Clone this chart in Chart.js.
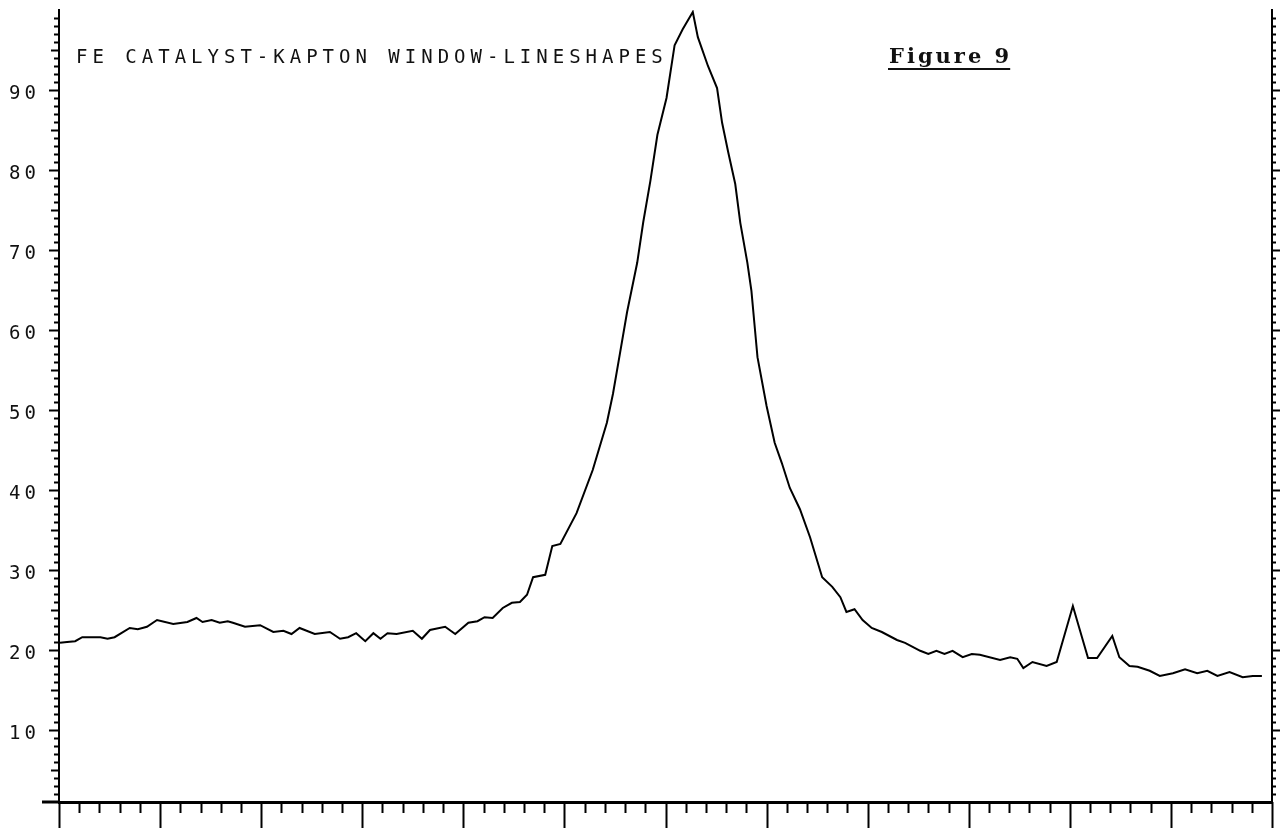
<!DOCTYPE html>
<html>
<head>
<meta charset="utf-8">
<title>FE CATALYST-KAPTON WINDOW-LINESHAPES</title>
<script src="https://cdn.jsdelivr.net/npm/chart.js@4.4.1/dist/chart.umd.min.js"></script>
<style>
  html, body { margin: 0; padding: 0; background: #ffffff; }
  canvas { display: block; }
</style>
</head>
<body>
<canvas id="spectrum" width="1280" height="829"></canvas>
<script>
// Channel positions of the recorded spectrum
const channel = [
  0.1, 0.8, 1.6, 2.3, 4.1, 4.8, 5.5, 7.0, 7.8, 8.7, 9.7, 11.3, 12.7, 13.6, 14.2,
  15.1, 15.9, 16.7, 17.2, 18.4, 19.9, 21.2, 22.2, 23.0, 23.8, 25.3, 26.8, 27.8,
  28.6, 29.4, 30.3, 31.1, 31.8, 32.5, 33.4, 35.0, 35.9, 36.7, 38.2, 39.2, 40.5,
  41.4, 42.1, 42.9, 43.9, 44.8, 45.6, 46.3, 46.9, 48.1, 48.8, 49.6, 51.2, 52.8,
  54.2, 54.8, 55.5, 56.2, 57.2, 57.8, 58.5, 59.2, 60.1, 60.9, 61.7, 62.7, 63.2,
  64.2, 65.1, 65.6, 66.2, 66.9, 67.4, 68.1, 68.5, 68.8, 69.1, 70.0, 70.8, 71.5,
  72.3, 73.3, 74.3, 75.5, 76.5, 77.3, 77.9, 78.7, 79.5, 80.4, 81.4, 82.9, 83.7,
  85.2, 86.0, 86.8, 87.6, 88.4, 89.4, 90.3, 91.1, 93.1, 94.1, 94.8, 95.4, 96.3,
  97.7, 98.7, 100.3, 101.8, 102.7, 104.2, 104.9, 105.9, 106.7, 107.9, 108.9,
  110.2, 111.4, 112.6, 113.6, 114.6, 115.8, 117.1, 118.1, 119.0
];

// Counts per channel
const counts = [
  20.9, 21.0, 21.1, 21.6, 21.6, 21.4, 21.6, 22.75, 22.6, 22.9, 23.75, 23.25, 23.5, 24.0, 23.5,
  23.75, 23.4, 23.6, 23.4, 22.9, 23.1, 22.25, 22.4, 22.0, 22.75, 22.0, 22.25, 21.4,
  21.6, 22.1, 21.1, 22.1, 21.4, 22.1, 22.0, 22.4, 21.4, 22.5, 22.9, 22.0, 23.4,
  23.6, 24.1, 24.0, 25.25, 25.9, 26.0, 26.9, 29.1, 29.4, 33.0, 33.25, 37.1, 42.5,
  48.4, 52.0, 57.1, 62.25, 68.4, 73.5, 78.6, 84.4, 89.0, 95.6, 97.6, 99.75, 96.6,
  93.0, 90.25, 85.9, 82.25, 78.25, 73.4, 68.4, 64.9, 60.75, 56.6, 50.5, 45.9, 43.4,
  40.25, 37.6, 34.1, 29.1, 27.9, 26.6, 24.75, 25.1, 23.75, 22.75, 22.25, 21.25, 20.9,
  19.9, 19.5, 19.9, 19.5, 19.9, 19.1, 19.5, 19.4, 18.75, 19.1, 18.9, 17.75, 18.5,
  18.0, 18.5, 25.5, 19.0, 19.0, 21.75, 19.1, 18.0, 17.9, 17.4, 16.75,
  17.1, 17.6, 17.1, 17.4, 16.75, 17.25, 16.6, 16.75, 16.75
];

// Labelled count values on the left axis
const yTickLabels = [10, 20, 30, 40, 50, 60, 70, 80, 90];

const titleText = 'FE CATALYST-KAPTON WINDOW-LINESHAPES';
const figureLabel = 'Figure 9';

const points = channel.map((c, i) => ({ x: c, y: counts[i] }));

// Tick marks along left, right and bottom axes, placed through the scales
const axisTicks = {
  id: 'axisTicks',
  beforeDraw(chart) {
    chart.ctx.letterSpacing = '4px';
  },
  afterDraw(chart) {
    const { ctx, chartArea: a } = chart;
    const x = chart.scales.x, y = chart.scales.y;
    ctx.save();
    ctx.letterSpacing = '0px';
    ctx.strokeStyle = '#000';

    // short stub of the channel axis left of the count axis
    ctx.lineWidth = 3;
    ctx.beginPath();
    ctx.moveTo(42, a.bottom); ctx.lineTo(a.left, a.bottom);
    ctx.stroke();

    ctx.lineWidth = 2;
    ctx.beginPath();
    for (let v = 2; v <= 99; v++) {
      const py = Math.round(y.getPixelForValue(v)) + 0.5;
      const lenL = v % 10 === 0 ? 10 : (v % 5 === 0 ? 8 : 5);
      ctx.moveTo(a.left - lenL, py); ctx.lineTo(a.left, py);
      const lenR = v % 10 === 0 ? 8 : 4;
      ctx.moveTo(a.right, py); ctx.lineTo(a.right + lenR, py);
    }
    for (let v = 0; v <= 120; v += 2) {
      const px = Math.round(x.getPixelForValue(v)) + 0.5;
      const len = v % 10 === 0 ? 26 : 11;
      ctx.moveTo(px, a.bottom); ctx.lineTo(px, a.bottom + len);
    }
    ctx.stroke();

    // plot caption
    ctx.fillStyle = '#111';
    ctx.textBaseline = 'alphabetic';
    ctx.textAlign = 'left';
    ctx.font = '19px "DejaVu Sans Mono"';
    ctx.letterSpacing = '5px';
    ctx.fillText(titleText, 76, 63);

    ctx.font = 'bold 21px "DejaVu Serif"';
    ctx.letterSpacing = '3px';
    ctx.fillText(figureLabel, 889, 63);
    const w = ctx.measureText(figureLabel).width;
    ctx.fillRect(888, 68, w - 1, 2);
    ctx.restore();
  }
};

new Chart(document.getElementById('spectrum'), {
  type: 'scatter',
  data: {
    datasets: [{
      data: points,
      showLine: true,
      borderColor: '#000',
      borderWidth: 2,
      pointRadius: 0,
      tension: 0,
      yAxisID: 'y'
    }]
  },
  options: {
    responsive: false,
    devicePixelRatio: 1,
    animation: false,
    layout: { padding: { top: 10, right: 8, bottom: 27, left: 0 } },
    plugins: { legend: { display: false }, tooltip: { enabled: false } },
    scales: {
      x: {
        type: 'linear', min: 0, max: 120,
        grid: { display: false },
        border: { display: true, color: '#000', width: 3 },
        ticks: { display: false },
        afterFit(s) { s.height = 0; s.paddingLeft = 0; s.paddingRight = 0; }
      },
      y: {
        type: 'linear', position: 'left', min: 1, max: 100,
        grid: { display: false },
        border: { display: true, color: '#000', width: 2 },
        afterBuildTicks(s) { s.ticks = yTickLabels.map(v => ({ value: v })); },
        ticks: {
          color: '#111',
          padding: 11,
          labelOffset: 4,
          font: { family: 'DejaVu Sans Mono', size: 19 },
          callback: v => String(v)
        },
        afterFit(s) { s.width = 59; s.paddingTop = 0; s.paddingBottom = 0; }
      },
      y2: {
        type: 'linear', position: 'right', min: 1, max: 100,
        grid: { display: false },
        border: { display: true, color: '#000', width: 2 },
        ticks: { display: false },
        afterFit(s) { s.width = 0; s.paddingTop = 0; s.paddingBottom = 0; }
      }
    }
  },
  plugins: [axisTicks]
});
</script>
</body>
</html>
